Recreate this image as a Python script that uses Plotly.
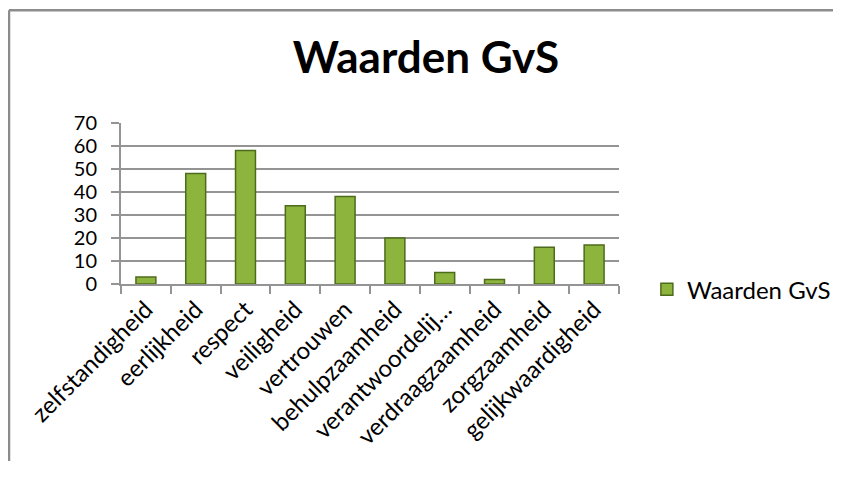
import plotly.graph_objects as go

# Waarden GvS - staafdiagram
categories = ["zelfstandigheid", "eerlijkheid", "respect", "veiligheid", "vertrouwen",
              "behulpzaamheid", "verantwoordelij…", "verdraagzaamheid", "zorgzaamheid",
              "gelijkwaardigheid"]
values = [3, 48, 58, 34, 38, 20, 5, 2, 16, 17]
y_ticks = [0, 10, 20, 30, 40, 50, 60, 70]
series_name = "Waarden GvS"

font = "Lato"
grey = "#949494"

fig = go.Figure()
fig.add_trace(go.Bar(
    x=categories, y=values, name=series_name,
    marker=dict(color="#8db43c", line=dict(color="#4d6b1c", width=1.5)),
    showlegend=True,
))

# pagina heeft 8px body-marge; figuur kleiner gehouden zodat er niets buiten het venster valt
fig.update_layout(
    width=825, height=453,
    margin=dict(l=113, r=214, t=115, b=177, autoexpand=False),
    plot_bgcolor="white", paper_bgcolor="white",
    bargap=0.6,
    font=dict(family=font, color="black"),
    title=dict(text="<b>Waarden GvS</b>", x=418 / 825, xref="container",
               xanchor="center", y=1 - 50 / 453, yanchor="middle",
               font=dict(size=44, family=font, color="black")),
    legend=dict(x=1.056, y=-0.035, xanchor="left", yanchor="middle",
                font=dict(size=24, family=font), itemwidth=30),
    showlegend=True,
)

fig.update_yaxes(range=[0, 70], tickvals=y_ticks, showgrid=True, gridcolor=grey, gridwidth=2,
                 showline=True, linecolor=grey, linewidth=2,
                 ticks="outside", ticklen=8, tickcolor=grey, tickwidth=2,
                 ticklabelstandoff=10,
                 tickfont=dict(size=20, family=font), zeroline=False)
fig.update_xaxes(showline=True, linecolor=grey, linewidth=2,
                 ticks="outside", ticklen=8, tickcolor=grey, tickwidth=2,
                 tickson="boundaries", tickangle=-45,
                 tickfont=dict(size=24, family=font))

# rand rond de grafiek (alleen links en boven zichtbaar)
x_left = (1 - 113) / 498
y_top = (276.3 - 2) / 161.3
fig.add_shape(type="line", xref="paper", yref="paper", x0=x_left, x1=1.8, y0=y_top, y1=y_top,
              line=dict(color="#8c8c8c", width=2.5), layer="below")
fig.add_shape(type="line", xref="paper", yref="paper", x0=x_left, x1=x_left, y0=y_top, y1=-1.5,
              line=dict(color="#8c8c8c", width=2.5), layer="below")

fig.write_html("out.html")
